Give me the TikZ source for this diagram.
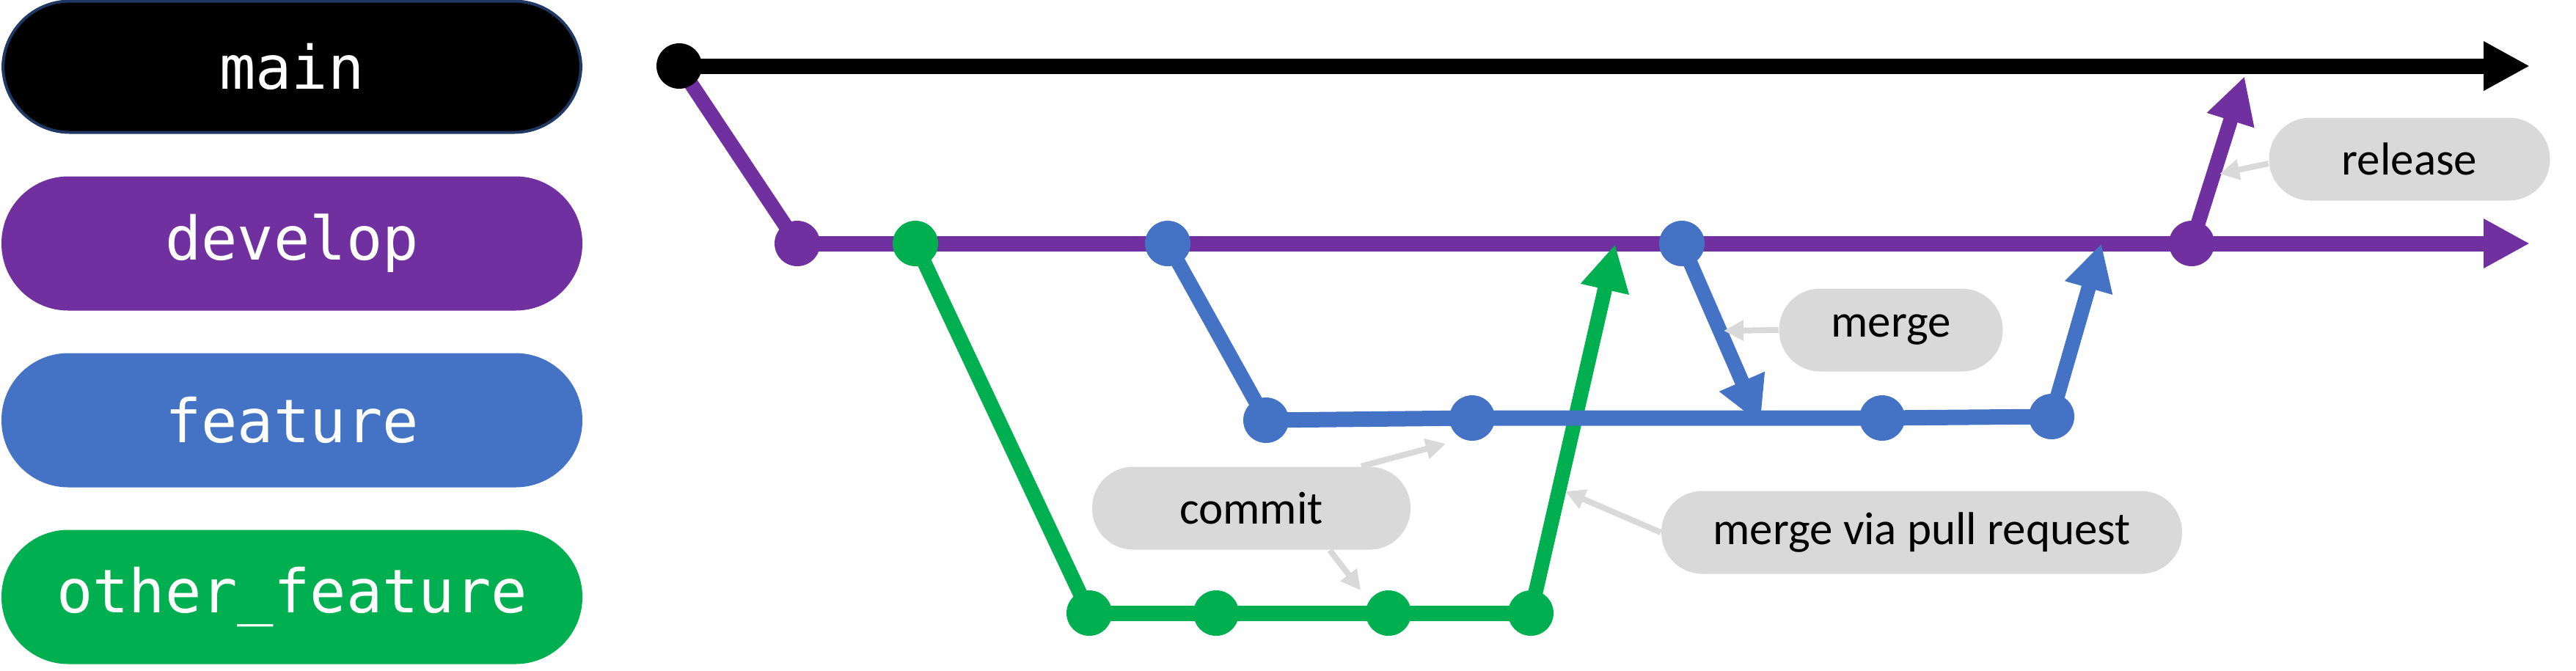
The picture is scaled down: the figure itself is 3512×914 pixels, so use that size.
\documentclass[tikz,border=0pt]{standalone}
\usepackage{fontspec}
\setmainfont{Carlito}
\newfontfamily\labelmono{DejaVu Sans Mono}
\usetikzlibrary{arrows.meta,backgrounds}
\definecolor{gitpurple}{HTML}{7030A0}
\definecolor{gitblue}{HTML}{4472C4}
\definecolor{gitgreen}{HTML}{00B050}
\definecolor{callgray}{HTML}{D9D9D9}
\definecolor{navyedge}{HTML}{203864}
\begin{document}
\begin{tikzpicture}[x=0.25pt,y=-0.25pt,
  branchpill/.style={rounded corners=22.8pt, minimum width=198pt, minimum height=45.75pt,
    inner sep=0pt, text=white, font=\labelmono\fontsize{20.5}{24}\selectfont},
  callout/.style={fill=callgray, rounded corners=14pt, minimum height=28.25pt,
    inner sep=0pt, text=black, font=\fontsize{15.75}{19}\selectfont},
  commitdot/.style={circle, minimum size=15.5pt, inner sep=0pt},
  branchline/.style={line width=5.25pt},
  diagline/.style={line width=5pt},
  branchtip/.style={-{Triangle[length=15.75pt,width=15.75pt]}},
  notearrow/.style={draw=callgray, line width=2pt, -{Triangle[length=6.75pt,width=6.75pt]}},
]
\useasboundingbox (0,0) rectangle (3512,914);

% branch labels
\node[branchpill, fill=black, draw=navyedge, line width=1pt, minimum width=197pt, minimum height=44.75pt] (lmain) at (398,91) {main};
\node[branchpill, fill=gitpurple] (ldev) at (398,332) {develop};
\node[branchpill, fill=gitblue] (lfeat) at (398,573) {feature};
\node[branchpill, fill=gitgreen] (lother) at (398,814) {other\_feature};

% commits
\node[commitdot, fill=black] (m0) at (926,90) {};
\node[commitdot, fill=gitpurple] (d0) at (1087,332) {};
\node[commitdot, fill=gitgreen] (d1) at (1248,332) {};
\node[commitdot, fill=gitblue] (d2) at (1592,332) {};
\node[commitdot, fill=gitblue] (d3) at (2293,332) {};
\node[commitdot, fill=gitpurple] (d4) at (2988,332) {};
\node[commitdot, fill=gitblue] (f0) at (1726,573) {};
\node[commitdot, fill=gitblue] (f1) at (2007,570) {};
\node[commitdot, fill=gitblue] (f2) at (2566,570) {};
\node[commitdot, fill=gitblue] (f3) at (2797,568) {};
\node[commitdot, fill=gitgreen] (g0) at (1485,836) {};
\node[commitdot, fill=gitgreen] (g1) at (1658,836) {};
\node[commitdot, fill=gitgreen] (g2) at (1893,836) {};
\node[commitdot, fill=gitgreen] (g3) at (2087,836) {};

% arrow tips
\coordinate (maintip) at (3449,90);
\coordinate (devtip) at (3449,332);
\coordinate (gtip) at (2202,333);
\coordinate (ftip) at (2865,332);
\coordinate (mtip) at (2400,578);
\coordinate (rtip) at (3060,104);

\begin{scope}[on background layer]
  \draw[branchline, black, branchtip] (m0.center) -- (maintip);
  \draw[branchline, gitpurple, branchtip] (d0.center) -- (devtip);
  \draw[diagline, gitpurple] (m0.center) -- (d0.center);
  \draw[diagline, gitgreen] (d1.center) -- (g0.center);
  \draw[branchline, gitgreen] (g0.center) -- (g3.center);
  \draw[diagline, gitgreen, branchtip] (g3.center) -- (gtip);
  \draw[diagline, gitblue] (d2.center) -- (f0.center);
  \draw[branchline, gitblue] (f0.center) -- (f1.center) -- (f2.center) -- (f3.center);
  \draw[diagline, gitblue, branchtip] (f3.center) -- (ftip);
  \draw[diagline, gitblue, branchtip] (d3.center) -- (mtip);
  \draw[diagline, gitpurple, branchtip] (d4.center) -- (rtip);
\end{scope}

% callouts
\node[callout, minimum width=108.5pt] (commit) at (1706,693) {commit};
\node[callout, minimum width=177.5pt] (mvpr) at (2620,726) {merge via pull request};
\node[callout, minimum width=76.25pt] (merge) at (2578,450) {merge};
\node[callout, minimum width=95.75pt] (release) at (3285,217) {release};

\coordinate (ctipA) at (1971,605);
\coordinate (ctipB) at (1855,805);
\coordinate (mvprtip) at (2134,670);
\coordinate (mergetip) at (2350,451);
\coordinate (reltip) at (3026,237);

\draw[notearrow] ([xshift=37.5pt]commit.north) -- (ctipA);
\draw[notearrow] ([xshift=26.75pt]commit.south) -- (ctipB);
\draw[notearrow] (mvpr.west) -- (mvprtip);
\draw[notearrow] (merge.west) -- (mergetip);
\draw[notearrow] ([yshift=-1.5pt]release.west) -- (reltip);
\end{tikzpicture}
\end{document}
